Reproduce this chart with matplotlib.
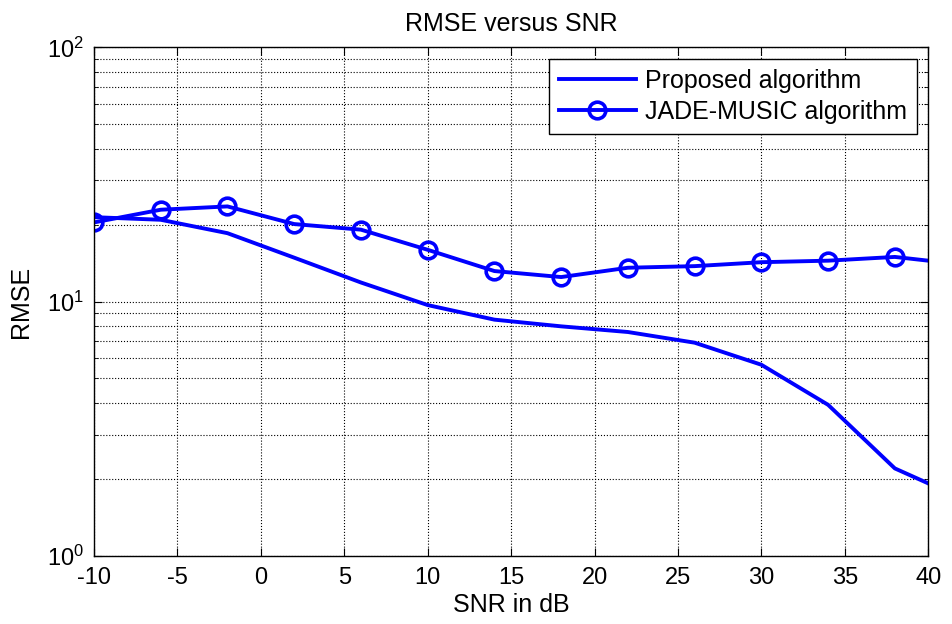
import matplotlib
matplotlib.use('Agg')
import matplotlib.pyplot as plt
from matplotlib.ticker import FixedLocator, LogLocator, NullFormatter, FuncFormatter
import numpy as np

plt.rcParams['font.family'] = ['Liberation Sans', 'DejaVu Sans']
plt.rcParams['mathtext.fontset'] = 'custom'
plt.rcParams['mathtext.rm'] = 'Liberation Sans'
plt.rcParams['mathtext.it'] = 'Liberation Sans'
plt.rcParams['axes.unicode_minus'] = False

# SNR grid (dB) and RMSE
snr = [-10, -6, -2, 2, 6, 10, 14, 18, 22, 26, 30, 34, 38, 40]
rmse_proposed = [21.5, 21.0, 18.6, 14.9, 11.9, 9.7, 8.5, 8.0, 7.6, 6.9, 5.65, 3.93, 2.21, 1.93]
rmse_jade = [20.5, 23.0, 23.7, 20.2, 19.2, 16.0, 13.2, 12.5, 13.6, 13.8, 14.3, 14.5, 15.0, 14.5]

xticks = [-10, -5, 0, 5, 10, 15, 20, 25, 30, 35, 40]

fig = plt.figure(figsize=(9.53, 6.24), dpi=100)
ax = fig.add_axes([0.0986, 0.109, 0.8754, 0.815])

ax.plot(snr, rmse_proposed, color='#0000ff', lw=2.8, label='Proposed algorithm')
ax.plot(snr, rmse_jade, color='#0000ff', lw=2.8, marker='o', markersize=12,
        markerfacecolor='none', markeredgewidth=2.6, markevery=list(range(13)),
        label='JADE-MUSIC algorithm')

ax.set_yscale('log')
ax.set_xlim(-10, 40)
ax.set_ylim(1, 100)
ax.xaxis.set_major_locator(FixedLocator(xticks))
ax.yaxis.set_major_locator(LogLocator(base=10))
ax.yaxis.set_major_formatter(FuncFormatter(
    lambda v, p: r'$\mathregular{10^{%d}}$' % int(round(np.log10(v)))))
ax.yaxis.set_minor_locator(LogLocator(base=10, subs=range(2, 10)))
ax.yaxis.set_minor_formatter(NullFormatter())

ax.grid(True, which='major', color='black', linestyle=':', linewidth=0.8)
ax.grid(True, which='minor', axis='y', color='black', linestyle=':', linewidth=0.8)

ax.tick_params(which='both', direction='in', top=True, right=True, labelsize=17)
ax.tick_params(which='major', length=6)
ax.tick_params(which='minor', length=3)
ax.tick_params(axis='x', pad=8)
ax.tick_params(axis='y', pad=7)
for s in ax.spines.values():
    s.set_linewidth(1.0)

ax.set_title('RMSE versus SNR', fontsize=18, pad=12)
ax.set_xlabel('SNR in dB', fontsize=18, labelpad=3)
ax.set_ylabel('RMSE', fontsize=18, labelpad=10)

leg = ax.legend(loc='upper right', fontsize=18, fancybox=False, framealpha=1,
                edgecolor='black', handlelength=3.1, handletextpad=0.35,
                labelspacing=0.3, borderaxespad=0.45, borderpad=0.4)
leg.get_frame().set_linewidth(1.0)

fig.savefig('out.png', dpi=100)
